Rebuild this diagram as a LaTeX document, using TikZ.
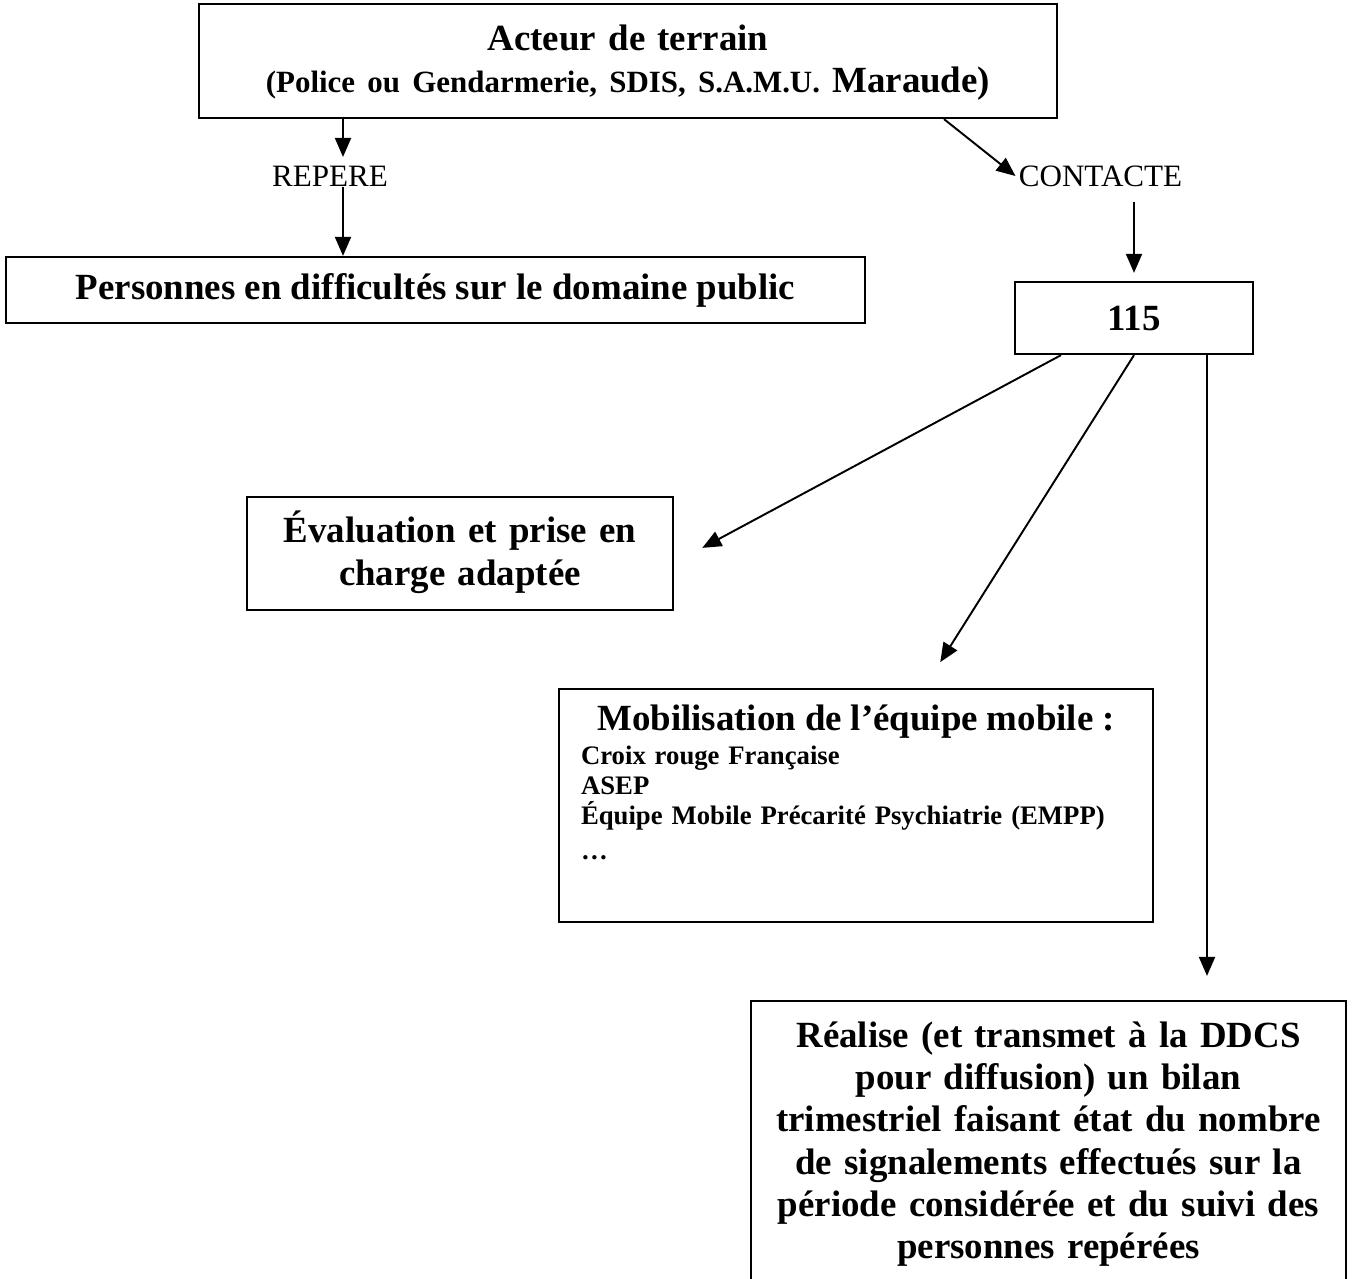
\documentclass[tikz,border=0pt]{standalone}
\usepackage{fontspec}
\setmainfont{Liberation Serif}
\usetikzlibrary{arrows.meta}

\begin{document}
\frenchspacing
\begin{tikzpicture}[
    x=0.02cm, y=-0.02cm,
    box/.style={draw, line width=1.3pt, align=center, inner sep=0pt, font=\fontsize{21}{24.4}\selectfont\bfseries},
    lbl/.style={inner xsep=0.06cm, inner ysep=0.18cm, font=\fontsize{17.7}{20}\selectfont},
    arrow/.style={-{Triangle[length=0.38cm, width=0.32cm]}, line width=1.1pt}
  ]
    \clip (0,0) rectangle (1354,1278);

    \node[box, text width=17.16cm, text height=0.92cm, text depth=1.36cm] (acteur) at (628,61)
      {Acteur de terrain\\{\fontsize{17.6}{24.4}\selectfont (Police ou Gendarmerie, SDIS, S.A.M.U.} Maraude)};
    \node[lbl] (repere) at (330,176.5) {REPERE};
    \node[box, minimum width=17.18cm, minimum height=1.32cm] (personnes) at (435.5,290)
      {Personnes en difficultés sur le domaine public};
    \node[lbl, inner ysep=0.31cm] (contacte) at (1100.5,176) {CONTACTE};
    \node[box, minimum width=4.76cm, minimum height=1.44cm] (num) at (1134,318) {115};
    \node[box, text width=8.52cm, text height=0.9cm, text depth=1.36cm,
      font=\fontsize{21}{25}\selectfont\bfseries] (evaluation) at (460,553.5)
      {Évaluation et prise en\\charge adaptée};
    \node[box, text width=11cm, inner xsep=0.44cm, text height=0.82cm, text depth=3.84cm, align=left,
      font=\fontsize{15.2}{17}\selectfont\bfseries] (mobile) at (856,805.5)
      {\makebox[11cm][c]{\fontsize{21}{24}\selectfont Mobilisation de l’équipe mobile :}\\[2.5pt]
       Croix rouge Française\\
       ASEP\\
       Équipe Mobile Précarité Psychiatrie (EMPP)\\[3.4pt]
       …};
    \node[box, text width=11.3cm, inner xsep=0.3cm, text height=0.92cm, text depth=5.2cm,
      font=\fontsize{21}{24.1}\selectfont\bfseries] (bilan) at (1048.5,1154)
      {Réalise (et transmet à la DDCS\\pour diffusion) un bilan\\trimestriel faisant état du nombre\\de signalements effectués sur la\\période considérée et du suivi des\\personnes repérées};

    \coordinate (rx) at (343,0);
    \coordinate (cx) at (944,0);
    \coordinate (rt) at (1207,0);

    \draw[arrow] (acteur.south -| rx) -- (repere.north -| rx);
    \draw[arrow] (repere.base -| rx) -- (personnes.north -| rx);
    \draw[arrow] (acteur.south -| cx) -- (contacte.west);
    \draw[arrow, shorten >=0.16cm] (contacte.south -| num.north) -- (num.north);
    \draw[arrow, shorten >=0.64cm] ([xshift=-1.46cm]num.south) -- ([yshift=-0.19cm]evaluation.east);
    \draw[arrow, shorten >=0.61cm] (num.south) -- ([xshift=1.36cm]mobile.north);
    \draw[arrow, shorten >=0.48cm] (num.south -| rt) -- (bilan.north -| rt);
\end{tikzpicture}
\end{document}
